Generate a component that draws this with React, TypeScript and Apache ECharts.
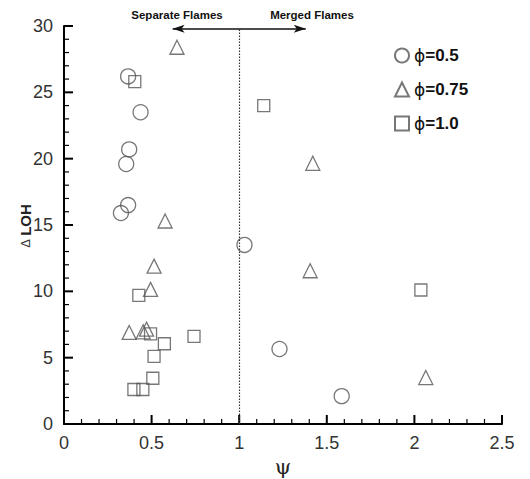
import React, { useEffect, useRef } from "react";
import * as echarts from "echarts";

const phi05: [number, number][] = [
  [0.366, 26.2], [0.437, 23.5], [0.372, 20.7], [0.355, 19.6], [0.366, 16.5],
  [0.325, 15.9], [1.03, 13.5], [1.23, 5.65], [1.585, 2.1],
];
const phi075: [number, number][] = [
  [0.645, 28.4], [1.42, 19.65], [0.577, 15.3], [0.514, 11.9], [1.405, 11.55],
  [0.494, 10.15], [0.372, 6.9], [0.452, 6.95], [0.471, 7.15], [2.065, 3.5],
];
const phi10: [number, number][] = [
  [0.404, 25.8], [1.14, 24.0], [2.037, 10.1], [0.427, 9.7], [0.494, 6.8],
  [0.742, 6.6], [0.573, 6.05], [0.514, 5.1], [0.507, 3.45], [0.399, 2.6], [0.45, 2.6],
];
const seriesNames = ["ϕ=0.5", "ϕ=0.75", "ϕ=1.0"];
const xTicks = { min: 0, max: 2.5, interval: 0.5 };
const yTicks = { min: 0, max: 30, interval: 5 };
const xMajorTicks = [0, 0.5, 1, 1.5, 2, 2.5];
const xMinorTicks = [0.1, 0.2, 0.3, 0.4, 0.6, 0.7, 0.8, 0.9, 1.1, 1.2, 1.3, 1.4, 1.6, 1.7, 1.8, 1.9, 2.1, 2.2, 2.3, 2.4];
const yMajorTicks = [0, 5, 10, 15, 20, 25, 30];
const yMinorTicks = [1, 2, 3, 4, 6, 7, 8, 9, 11, 12, 13, 14, 16, 17, 18, 19, 21, 22, 23, 24, 26, 27, 28, 29];
const boundaryPsi = 1;
const arrowY = 29.8;
const arrowFrom = 0.62;
const arrowTo = 1.38;

const STROKE = "#555";
const FONT = "'Liberation Sans', Arial, sans-serif";

export default function App() {
  const ref = useRef<HTMLDivElement>(null);
  useEffect(() => {
    document.body.style.margin = "0";
    const chart = echarts.init(ref.current!, null, { renderer: "svg" });
    const mk = (name: string, data: [number, number][], symbol: string, size: number, extra: any = {}) => ({
      name,
      type: "scatter",
      data,
      symbol,
      symbolSize: size,
      itemStyle: { color: "rgba(0,0,0,0)", borderColor: STROKE, borderWidth: 1.3 },
      emphasis: { disabled: true },
      z: 3,
      ...extra,
    });
    const tickData = [
      ...xMajorTicks.map((v) => [v, 0]),
      ...xMinorTicks.map((v) => [v, 1]),
      ...yMajorTicks.map((v) => [v, 2]),
      ...yMinorTicks.map((v) => [v, 3]),
    ];
    chart.setOption({
      animation: false,
      grid: { left: 64, right: 28, top: 26, bottom: 55, containLabel: false, outerBoundsMode: "none" },
      tooltip: { show: false },
      xAxis: {
        type: "value",
        min: xTicks.min, max: xTicks.max, interval: xTicks.interval,
        axisLine: { show: true, onZero: false, lineStyle: { color: "#000", width: 2 } },
        axisTick: { show: false },
        minorTick: { show: false },
        splitLine: { show: false },
        name: "ψ",
        nameLocation: "middle",
        nameGap: 31,
        nameTextStyle: { fontSize: 21, color: "#222", fontFamily: "'DejaVu Serif', serif" },
        axisLabel: { fontSize: 18, color: "#333", fontFamily: FONT, margin: 10 },
      },
      yAxis: {
        type: "value",
        min: yTicks.min, max: yTicks.max, interval: yTicks.interval,
        axisLine: { show: true, onZero: false, lineStyle: { color: "#000", width: 2 } },
        axisTick: { show: false },
        minorTick: { show: false },
        splitLine: { show: false },
        axisLabel: { fontSize: 18, color: "#333", fontFamily: FONT, margin: 11 },
      },
      legend: {
        orient: "vertical",
        left: 389,
        top: 42,
        itemWidth: 14,
        itemHeight: 14,
        itemGap: 17,
        selectedMode: false,
        data: [
          { name: seriesNames[0], icon: "circle" },
          { name: seriesNames[1], icon: "triangle" },
          { name: seriesNames[2], icon: "rect" },
        ],
        formatter: (n: string) => `{p|${n.slice(0, 1)}}{b|${n.slice(1)}}`,
        textStyle: {
          rich: {
            p: { fontSize: 17, color: "#111", fontFamily: "'DejaVu Sans', sans-serif" },
            b: { fontSize: 17, fontWeight: "bold", color: "#111", fontFamily: FONT },
          },
        },
      },
      series: [
        mk(seriesNames[0], phi05, "circle", 15, {
          markLine: {
            silent: true,
            animation: false,
            label: { show: false },
            emphasis: { disabled: true },
            data: [
              [
                { coord: [boundaryPsi, 0], symbol: "none", lineStyle: { type: [1.5, 1.5], color: "#333", width: 1.2 } },
                { coord: [boundaryPsi, arrowY], symbol: "none" },
              ],
              [
                { coord: [arrowFrom, arrowY], symbol: "arrow", symbolSize: [6, 12], lineStyle: { type: "solid", color: "#111", width: 1.6 } },
                { coord: [arrowTo, arrowY], symbol: "arrow", symbolSize: [6, 12] },
              ],
            ],
          },
        }),
        mk(seriesNames[1], phi075, "triangle", 14),
        mk(seriesNames[2], phi10, "rect", 12),
        {
          name: "ticks",
          type: "custom",
          silent: true,
          clip: false,
          z: 4,
          data: tickData,
          renderItem: (_p: any, api: any) => {
            const v = api.value(0);
            const k = api.value(1);
            const major = k === 0 || k === 2;
            const len = major ? 9 : 5;
            const style = { stroke: "#000", lineWidth: major ? 2 : 1.2 };
            if (k < 2) {
              const p = api.coord([v, yTicks.min]);
              return { type: "line", shape: { x1: p[0], y1: p[1], x2: p[0], y2: p[1] - len }, style };
            }
            const p = api.coord([xTicks.min, v]);
            return { type: "line", shape: { x1: p[0], y1: p[1], x2: p[0] + len, y2: p[1] }, style };
          },
        },
      ],
      graphic: [
        {
          type: "text",
          x: 177,
          y: 15,
          style: { text: "Separate Flames", fontSize: 11.5, fontWeight: "bold", fill: "#111", fontFamily: FONT, align: "center", verticalAlign: "middle" },
        },
        {
          type: "text",
          x: 312,
          y: 15,
          style: { text: "Merged Flames", fontSize: 11.5, fontWeight: "bold", fill: "#111", fontFamily: FONT, align: "center", verticalAlign: "middle" },
        },
        {
          type: "text",
          x: 25,
          y: 226,
          rotation: Math.PI / 2,
          style: {
            text: "{d|Δ} {b|LOH}",
            align: "center",
            verticalAlign: "middle",
            rich: {
              d: { fontSize: 13, fill: "#333", fontFamily: FONT },
              b: { fontSize: 15, fontWeight: "bold", fill: "#222", fontFamily: FONT },
            },
          },
        },
      ],
    });
    return () => chart.dispose();
  }, []);
  return <div ref={ref} style={{ width: 530, height: 479 }} />;
}
